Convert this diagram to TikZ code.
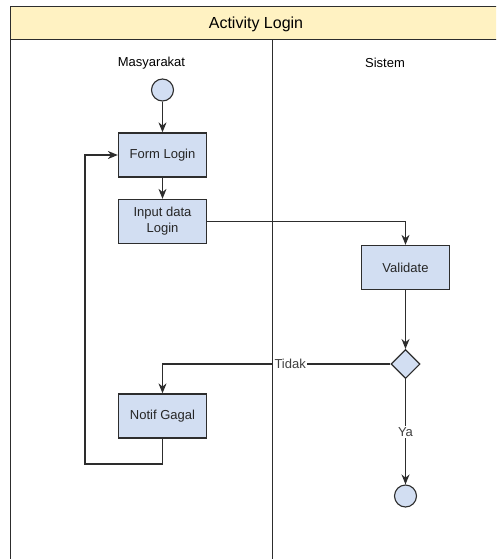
\documentclass[tikz,border=0pt]{standalone}
\usepackage{fontspec}
\setmainfont{Liberation Sans}
\usetikzlibrary{arrows.meta, shapes.geometric, positioning}
\definecolor{lanefill}{RGB}{255,242,194}
\definecolor{actfill}{RGB}{210,222,242}
\definecolor{linegray}{RGB}{45,45,45}

\begin{document}
\begin{tikzpicture}[x=1pt, y=-1pt,
    act/.style={draw=linegray, line width=1.3pt, fill=actfill, text=black!85,
        minimum width=88pt, minimum height=44pt, align=center, inner sep=2pt,
        font=\fontsize{13}{16}\selectfont},
    dot/.style={circle, draw=linegray, line width=1.1pt, fill=actfill, minimum size=22pt, inner sep=0pt},
    choice/.style={diamond, draw=linegray, line width=1.1pt, fill=actfill, minimum size=29pt, inner sep=0pt},
    flow/.style={line width=1.2pt, draw=linegray, -{Stealth[length=10pt, width=8pt]}},
    guard/.style={fill=white, text=black!75, inner sep=1.5pt, font=\fontsize{13}{15}\selectfont}]
    \useasboundingbox (0,0) rectangle (496,559);
    \clip (0,0) rectangle (496,559);

    % Swimlanes
    \fill[lanefill] (10,7) rectangle (502,40);
    \draw[linegray, line width=1pt] (10,7) rectangle (502,600);
    \draw[linegray, line width=1pt] (10,40) -- (502,40);
    \draw[linegray, line width=1pt] (272,40) -- (272,600);
    \node[font=\fontsize{16}{18}\selectfont] (title) at (256,24) {Activity Login};
    \node[font=\fontsize{13}{15}\selectfont] (laneA) at (151.5,63) {Masyarakat};
    \node[font=\fontsize{13}{15}\selectfont] (laneB) at (385,63) {Sistem};

    % Masyarakat
    \node[dot] (start) at (162.5,90) {};
    \node[act] (form) at (162.5,155) {Form Login};
    \node[act] (input) at (162.5,221.5) {Input data\\Login};
    \node[act] (notif) at (162.5,416) {Notif Gagal};
    \coordinate (back) at (85,464);

    % Sistem
    \node[act] (validate) at (405.5,267.5) {Validate};
    \node[choice] (check) at (405.5,364) {};
    \node[dot] (finish) at (405.5,496) {};

    % Connectors
    \draw[flow] (start) -- (form);
    \draw[flow] (form) -- (input);
    \draw[flow] (input.east) -| (validate.north);
    \draw[flow] (validate) -- (check);
    \draw[flow] (check.west) -| node[guard, pos=0.22] {Tidak} (notif.north);
    \draw[flow] (check.south) -- node[guard, midway] {Ya} (finish);
    \draw[flow] (notif.south) |- (back) |- (form.west);
\end{tikzpicture}
\end{document}
